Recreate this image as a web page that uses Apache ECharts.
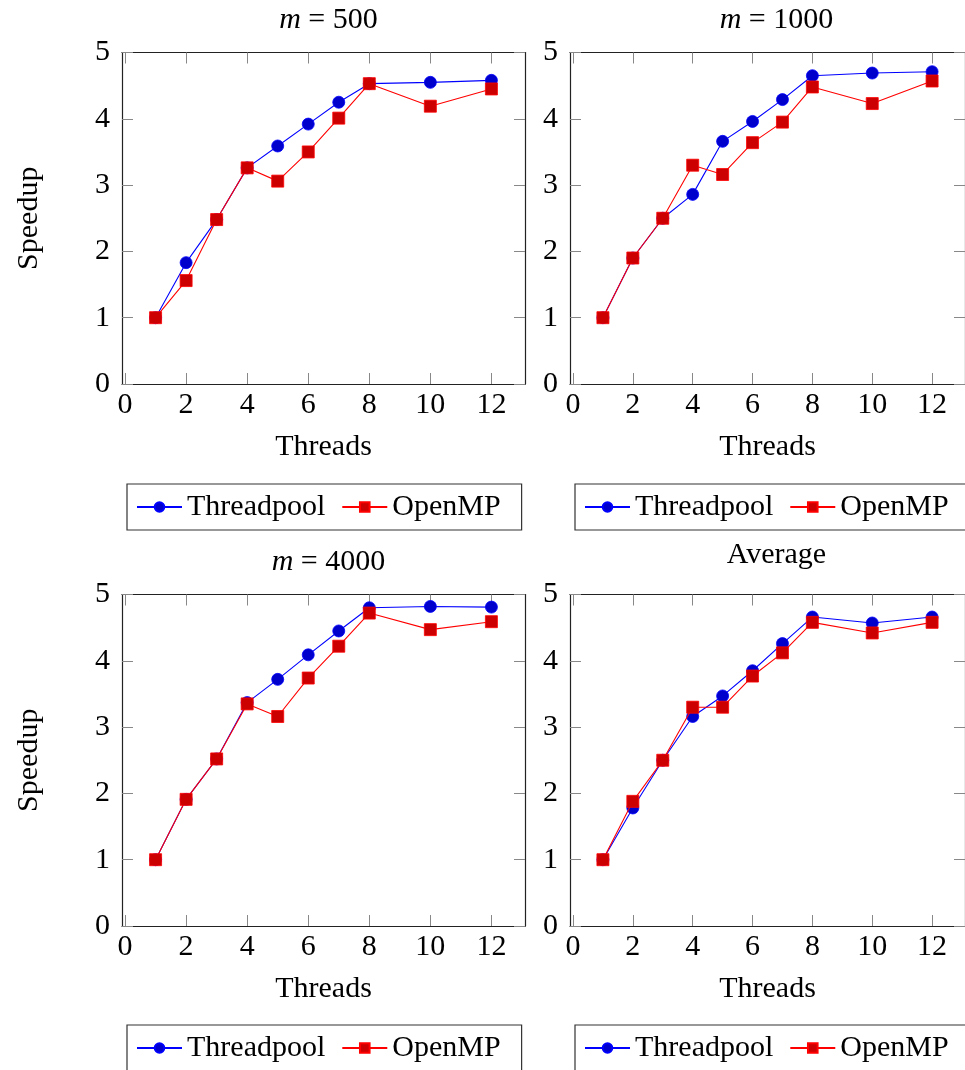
<!DOCTYPE html>
<html>
<head>
<meta charset="utf-8">
<script src="https://cdn.jsdelivr.net/npm/echarts@6/dist/echarts.min.js"></script>
<style>
html,body{margin:0;padding:0;background:#fff;}
#chart{width:965px;height:1070px;}
</style>
</head>
<body>
<div id="chart"></div>
<script>
const threads = [1, 2, 3, 4, 5, 6, 7, 8, 10, 12];
const xTicks = [0, 2, 4, 6, 8, 10, 12];
const yTicks = [0, 1, 2, 3, 4, 5];
const seriesNames = ['Threadpool', 'OpenMP'];
const panelTitles = ['{i|m} = 500', '{i|m} = 1000', '{i|m} = 4000', 'Average'];

const tp500   = [1.00, 1.83, 2.48, 3.26, 3.59, 3.92, 4.25, 4.53, 4.55, 4.58];
const omp500  = [1.00, 1.56, 2.48, 3.26, 3.06, 3.50, 4.01, 4.53, 4.19, 4.45];
const tp1000  = [1.00, 1.90, 2.50, 2.86, 3.66, 3.96, 4.29, 4.65, 4.69, 4.71];
const omp1000 = [1.00, 1.90, 2.50, 3.30, 3.16, 3.64, 3.95, 4.48, 4.23, 4.57];
const tp4000  = [1.00, 1.91, 2.52, 3.37, 3.72, 4.09, 4.45, 4.80, 4.82, 4.81];
const omp4000 = [1.00, 1.91, 2.52, 3.35, 3.16, 3.74, 4.22, 4.72, 4.47, 4.59];
const tpAvg   = [1.00, 1.78, 2.50, 3.16, 3.47, 3.85, 4.26, 4.66, 4.57, 4.66];
const ompAvg  = [1.00, 1.88, 2.50, 3.30, 3.30, 3.77, 4.12, 4.58, 4.42, 4.58];

const panelData = [[tp500, omp500], [tp1000, omp1000], [tp4000, omp4000], [tpAvg, ompAvg]];

const FONT = 'Liberation Serif';
const FS = 30;
const AXIS_COLOR = '#222';
const TICK_COLOR = '#888';

// layout
const gridLeft = [122, 570, 122, 570];
const gridTop = [52.5, 52.5, 594.5, 594.5];
const gridW = 403, gridH = 331.5;
const titleTop = [0, 0, 542, 535];
const legendTop = [484, 484, 1025, 1025];
const legendLeft = [127, 575, 127, 575];

const grids = [], xAxes = [], yAxes = [], series = [], titles = [], legends = [];
const pairs = (xs, ys) => xs.map((x, i) => [x, ys[i]]);

for (let p = 0; p < 4; p++) {
  grids.push({left: gridLeft[p], top: gridTop[p], width: gridW, height: gridH, containLabel: false});
  const baseX = {
    gridIndex: p, type: 'value', min: -0.1, max: 13.1,
    axisLine: {show: true, onZero: false, lineStyle: {color: AXIS_COLOR, width: 1.2}},
    axisTick: {show: true, inside: true, length: 11, customValues: xTicks, lineStyle: {color: TICK_COLOR, width: 1}},
    splitLine: {show: false}
  };
  xAxes.push(Object.assign({}, baseX, {
    position: 'bottom',
    axisLabel: {show: true, customValues: xTicks, margin: 6, fontFamily: FONT, fontSize: FS, color: '#000'},
    name: 'Threads', nameLocation: 'middle', nameGap: 48,
    nameTextStyle: {fontFamily: FONT, fontSize: FS, color: '#000'}
  }));
  xAxes.push(Object.assign({}, baseX, {position: 'top', axisLabel: {show: false}}));
  const baseY = {
    gridIndex: p, type: 'value', min: 0, max: 5, interval: 1,
    axisLine: {show: true, onZero: false, lineStyle: {color: AXIS_COLOR, width: 1.2}},
    axisTick: {show: true, inside: true, length: 11, lineStyle: {color: TICK_COLOR, width: 1}},
    splitLine: {show: false}
  };
  const yLeft = Object.assign({}, baseY, {
    position: 'left',
    axisLabel: {show: true, margin: 12, fontFamily: FONT, fontSize: FS, color: '#000'}
  });
  if (p % 2 === 0) {
    Object.assign(yLeft, {
      name: 'Speedup', nameLocation: 'middle', nameGap: 78,
      nameTextStyle: {fontFamily: FONT, fontSize: FS, color: '#000'}
    });
  }
  yAxes.push(yLeft);
  yAxes.push(Object.assign({}, baseY, {position: 'right', axisLabel: {show: false}}));

  const [tp, omp] = panelData[p];
  series.push({
    name: seriesNames[0], type: 'line', xAxisIndex: 2 * p, yAxisIndex: 2 * p,
    data: pairs(threads, tp), symbol: 'circle', symbolSize: 12,
    lineStyle: {color: '#0000ff', width: 1.1},
    itemStyle: {color: '#0000cc', borderColor: '#0000ff', borderWidth: 0.8},
    emphasis: {disabled: true}, animation: false, z: 2
  });
  series.push({
    name: seriesNames[1], type: 'line', xAxisIndex: 2 * p, yAxisIndex: 2 * p,
    data: pairs(threads, omp), symbol: 'rect', symbolSize: 12,
    lineStyle: {color: '#ff0000', width: 1.1},
    itemStyle: {color: '#cc0000', borderColor: '#ff0000', borderWidth: 0.8},
    emphasis: {disabled: true}, animation: false, z: 3
  });

  titles.push({
    text: panelTitles[p], left: gridLeft[p] + gridW / 2, top: titleTop[p], textAlign: 'center',
    textStyle: {
      fontFamily: FONT, fontSize: FS, fontWeight: 'normal', color: '#000',
      rich: {i: {fontFamily: FONT, fontSize: FS, fontStyle: 'italic', color: '#000'}}
    }
  });
  legends.push({
    data: seriesNames, left: legendLeft[p], top: legendTop[p], width: 380, orient: 'horizontal',
    itemWidth: 45, itemHeight: 12, itemGap: 16,
    padding: [8, 21, 8, 9], borderColor: '#333', borderWidth: 1.2, backgroundColor: '#fff',
    textStyle: {fontFamily: FONT, fontSize: FS, color: '#000'},
    selectedMode: false
  });
}

const chart = echarts.init(document.getElementById('chart'), null, {renderer: 'canvas'});
chart.setOption({
  animation: false,
  backgroundColor: '#fff',
  title: titles,
  legend: legends,
  grid: grids,
  xAxis: xAxes,
  yAxis: yAxes,
  series: series
});
</script>
</body>
</html>
